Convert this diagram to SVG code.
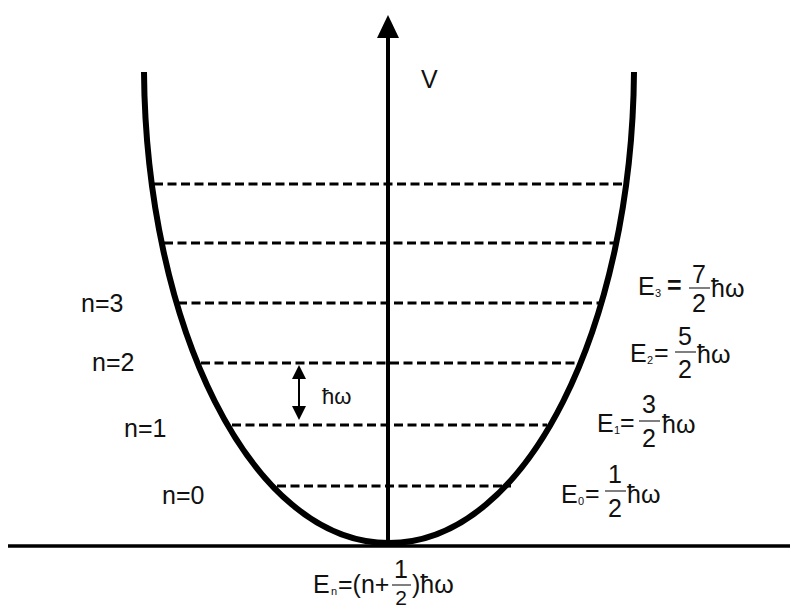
<svg xmlns="http://www.w3.org/2000/svg" width="790" height="608" viewBox="0 0 790 608">
<style>
.t{font-family:"Liberation Sans",Arial,sans-serif;fill:#111;}
.lbl{font-size:25px;}
.e{font-size:25px;}
.sub{font-size:11px;}
.lvl{stroke:#000;stroke-width:3;stroke-dasharray:9,4.5;fill:none;}
.bar{stroke:#555;stroke-width:1.5;}
</style>
<rect width="790" height="608" fill="#fff"/>
<g id="connectors">
<line x1="8" y1="546" x2="790" y2="546" stroke="#000" stroke-width="3.5"/>
<line x1="388" y1="546" x2="388" y2="34" stroke="#000" stroke-width="4"/>
<polygon points="388,15 377,38 399,38" fill="#000"/>
<line x1="299" y1="374" x2="299" y2="411" stroke="#000" stroke-width="2"/>
<polygon points="299,365 292,379 306,379" fill="#000"/>
<polygon points="299,420 292,406 306,406" fill="#000"/>
</g>
<g id="well">
<path d="M144,72 C146,322 249,543 389,543 C529,543 632,322 634,72" fill="none" stroke="#000" stroke-width="6"/>
</g>
<g id="levels">
<line class="lvl" x1="154" y1="184" x2="624" y2="184"/>
<line class="lvl" x1="164" y1="243" x2="614" y2="243"/>
<line class="lvl" x1="178" y1="303" x2="600" y2="303"/>
<line class="lvl" x1="201" y1="363" x2="578" y2="363"/>
<line class="lvl" x1="232" y1="425" x2="547" y2="425"/>
<line class="lvl" x1="277" y1="486" x2="511" y2="486"/>
</g>
<g id="label-V"><text class="t" x="421" y="88" font-size="25">V</text></g>
<g id="label-hw"><text class="t" x="322" y="404" font-size="22">ħω</text></g>
<g id="n-labels">
<text class="t lbl" x="81" y="312">n=3</text>
<text class="t lbl" x="92" y="371">n=2</text>
<text class="t lbl" x="124" y="437">n=1</text>
<text class="t lbl" x="162" y="504">n=0</text>
</g>
<g id="E3">
<text class="t e" x="638" y="295">E</text>
<text class="t sub" x="655" y="297">3</text>
<text class="t e" x="667" y="294" font-weight="bold">=</text>
<text class="t e" x="699" y="283" text-anchor="middle">7</text>
<line class="bar" x1="689" y1="288" x2="710" y2="288"/>
<text class="t e" x="699" y="312" text-anchor="middle">2</text>
<text class="t e" x="711" y="297">ħω</text>
</g>
<g id="E2">
<text class="t e" x="630" y="362">E</text>
<text class="t sub" x="647" y="364">2</text>
<text class="t e" x="654" y="361">=</text>
<text class="t e" x="685" y="345" text-anchor="middle">5</text>
<line class="bar" x1="675" y1="352" x2="696" y2="352"/>
<text class="t e" x="685" y="378" text-anchor="middle">2</text>
<text class="t e" x="697" y="363">ħω</text>
</g>
<g id="E1">
<text class="t e" x="597" y="432">E</text>
<text class="t sub" x="614" y="434">1</text>
<text class="t e" x="620" y="431">=</text>
<text class="t e" x="649" y="413" text-anchor="middle">3</text>
<line class="bar" x1="639" y1="421" x2="660" y2="421"/>
<text class="t e" x="649" y="447" text-anchor="middle">2</text>
<text class="t e" x="662" y="433">ħω</text>
</g>
<g id="E0">
<text class="t e" x="561" y="503">E</text>
<text class="t sub" x="578" y="505">0</text>
<text class="t e" x="585" y="502">=</text>
<text class="t e" x="615" y="483" text-anchor="middle">1</text>
<line class="bar" x1="605" y1="491" x2="626" y2="491"/>
<text class="t e" x="615" y="517" text-anchor="middle">2</text>
<text class="t e" x="627" y="503">ħω</text>
</g>
<g id="En">
<text class="t e" x="313" y="593">E</text>
<text class="t sub" x="331" y="595">n</text>
<text class="t e" x="338" y="593">=(n+</text>
<text class="t e" x="401" y="578" text-anchor="middle">1</text>
<line class="bar" x1="392" y1="585" x2="411" y2="585"/>
<text class="t" x="401" y="605" font-size="21" text-anchor="middle">2</text>
<text class="t e" x="412" y="593">)ħω</text>
</g>
</svg>
